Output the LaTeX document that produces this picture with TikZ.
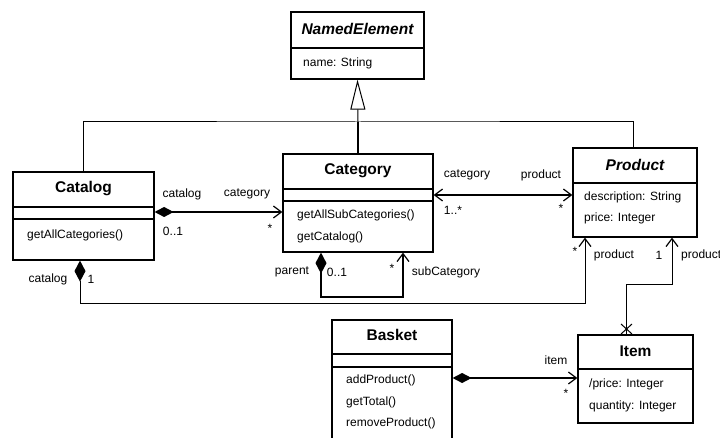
\documentclass[tikz,border=0pt]{standalone}
\usepackage{fontspec}
\setmainfont{Liberation Sans}
\usetikzlibrary{arrows.meta}

\tikzset{
  classbox/.style={draw, line width=1.2pt, inner sep=0pt},
  classname/.style={inner sep=0pt, font=\fontsize{15.5}{18}\selectfont\bfseries},
  member/.style={anchor=west, inner sep=0pt, font=\fontsize{12}{14}\selectfont},
  role/.style={inner sep=0pt, font=\fontsize{12}{14}\selectfont},
  divider/.style={line width=2pt},
  assoc/.style={line width=1.7pt},
  link/.style={line width=1pt},
  nav/.style={-{Straight Barb[length=8pt,width=12pt,line width=1.2pt]}},
  both/.style={{Straight Barb[length=8pt,width=12pt,line width=1.2pt]}-{Straight Barb[length=8pt,width=12pt,line width=1.2pt]}},
  compnav/.style={{Diamond[length=19pt,width=10pt]}-{Straight Barb[length=8pt,width=12pt,line width=1.2pt]}},
  gen/.style={-{Triangle[open,length=30pt,width=15pt,fill=white]}}
}

\begin{document}
\begin{tikzpicture}[x=1pt, y=-1pt]
        \clip (0,0) rectangle (720,438);
        \fill[white] (0,0) rectangle (720,438);

        \node[classbox, minimum width=133pt, minimum height=67pt] (named) at (357.5,45.5) {};
        \node[classname, font=\fontsize{15.5}{18}\selectfont\bfseries\itshape] (namedtitle) at (357.5,29) {NamedElement};
        \draw[divider] (named.west |- 0,48) -- (named.east |- 0,48);
        \node[member] (namedattr) at (303,63) {name: String};

        \node[classbox, minimum width=141pt, minimum height=88pt] (catalog) at (83.5,216) {};
        \node[classname] (catalogtitle) at (83.5,189) {Catalog};
        \draw[divider] (catalog.west |- 0,207) -- (catalog.east |- 0,207);
        \draw[divider] (catalog.west |- 0,219) -- (catalog.east |- 0,219);
        \node[member] (catalogop) at (27,235) {getAllCategories()};

        \node[classbox, minimum width=150pt, minimum height=98pt] (category) at (358,203) {};
        \node[classname] (categorytitle) at (358,171) {Category};
        \draw[divider] (category.west |- 0,189) -- (category.east |- 0,189);
        \draw[divider] (category.west |- 0,201) -- (category.east |- 0,201);
        \node[member] (categoryopa) at (297,215) {getAllSubCategories()};
        \node[member] (categoryopb) at (297,237) {getCatalog()};

        \node[classbox, minimum width=124pt, minimum height=89pt] (product) at (635,192.5) {};
        \node[classname, font=\fontsize{15.5}{18}\selectfont\bfseries\itshape] (producttitle) at (635,165) {Product};
        \draw[divider] (product.west |- 0,183) -- (product.east |- 0,183);
        \node[member] (productattra) at (584,197) {description: String};
        \node[member] (productattrb) at (584,218) {price: Integer};

        \node[classbox, minimum width=120pt, minimum height=140pt] (basket) at (392,390) {};
        \node[classname] (baskettitle) at (392,335) {Basket};
        \draw[divider] (basket.west |- 0,354) -- (basket.east |- 0,354);
        \draw[divider] (basket.west |- 0,367) -- (basket.east |- 0,367);
        \node[member] (basketopa) at (346,380) {addProduct()};
        \node[member] (basketopb) at (346,402) {getTotal()};
        \node[member] (basketopc) at (346,423) {removeProduct()};

        \node[classbox, minimum width=115pt, minimum height=88pt] (item) at (635.5,379) {};
        \node[classname] (itemtitle) at (635.5,351) {Item};
        \draw[divider] (item.west |- 0,369) -- (item.east |- 0,369);
        \node[member] (itemattra) at (589,384) {/price: Integer};
        \node[member] (itemattrb) at (589,406) {quantity: Integer};

        \coordinate (genjoin) at (358,122);
        \draw[divider] (category.north) -- (genjoin);
        \draw[link] (catalog.north) |- (genjoin) -| (product.north -| 633,0);
        \draw[link, gen] (genjoin) -- (named.south);

        \draw[assoc, compnav] (catalog.east |- 0,212) -- (category.west |- 0,212);
        \node[role] (catalogrole) at (182,194) {catalog};
        \node[role] (catalogmult) at (173,231) {0..1};
        \node[role] (categoryrole) at (247,194) {category};
        \node[role] (categorymult) at (270,228) {*};

        \draw[assoc, both] (category.east |- 0,195) -- (product.west |- 0,195);
        \node[role] (ownerrole) at (467,175) {category};
        \node[role] (ownermult) at (453,210) {1..*};
        \node[role] (productrole) at (541,175) {product};
        \node[role] (productmult) at (561,208) {*};

        \draw[line width=1.3pt, {Diamond[length=21pt,width=11pt]}-{Straight Barb[length=8pt,width=12pt,line width=1.2pt]}]
          (category.south -| 321,0) -- (321,297) -| (category.south -| 403,0);
        \node[role] (parentrole) at (292,272) {parent};
        \node[role] (parentmult) at (337,272) {0..1};
        \node[role] (subrole) at (446,272) {subCategory};
        \node[role] (submult) at (392,268) {*};

        \draw[link, {Diamond[length=21pt,width=11pt]}-{Straight Barb[length=8pt,width=12pt,line width=1.2pt]}]
          (catalog.south -| 80,0) -- (80,304) -| (product.south -| 585,0);
        \node[role] (ownercatalog) at (48,279) {catalog};
        \node[role] (ownercatalogmult) at (91,279) {1};
        \node[role] (itemsrole) at (614,255) {product};
        \node[role] (itemsmult) at (575,251) {*};

        \draw[link, nav] (item.north -| 626,0) |- (672,285) -- (product.south -| 672,0);
        \draw[link] (621,324) -- (632,334) (621,334) -- (632,324);
        \node[role] (linkmult) at (659,255) {1};
        \node[role, anchor=west] (linkrole) at (681,255) {product};

        \draw[assoc, compnav] (basket.east |- 0,378) -- (item.west |- 0,378);
        \node[role] (itemrole) at (556,360) {item};
        \node[role] (itemmult) at (566,393) {*};
      \end{tikzpicture}
\end{document}
